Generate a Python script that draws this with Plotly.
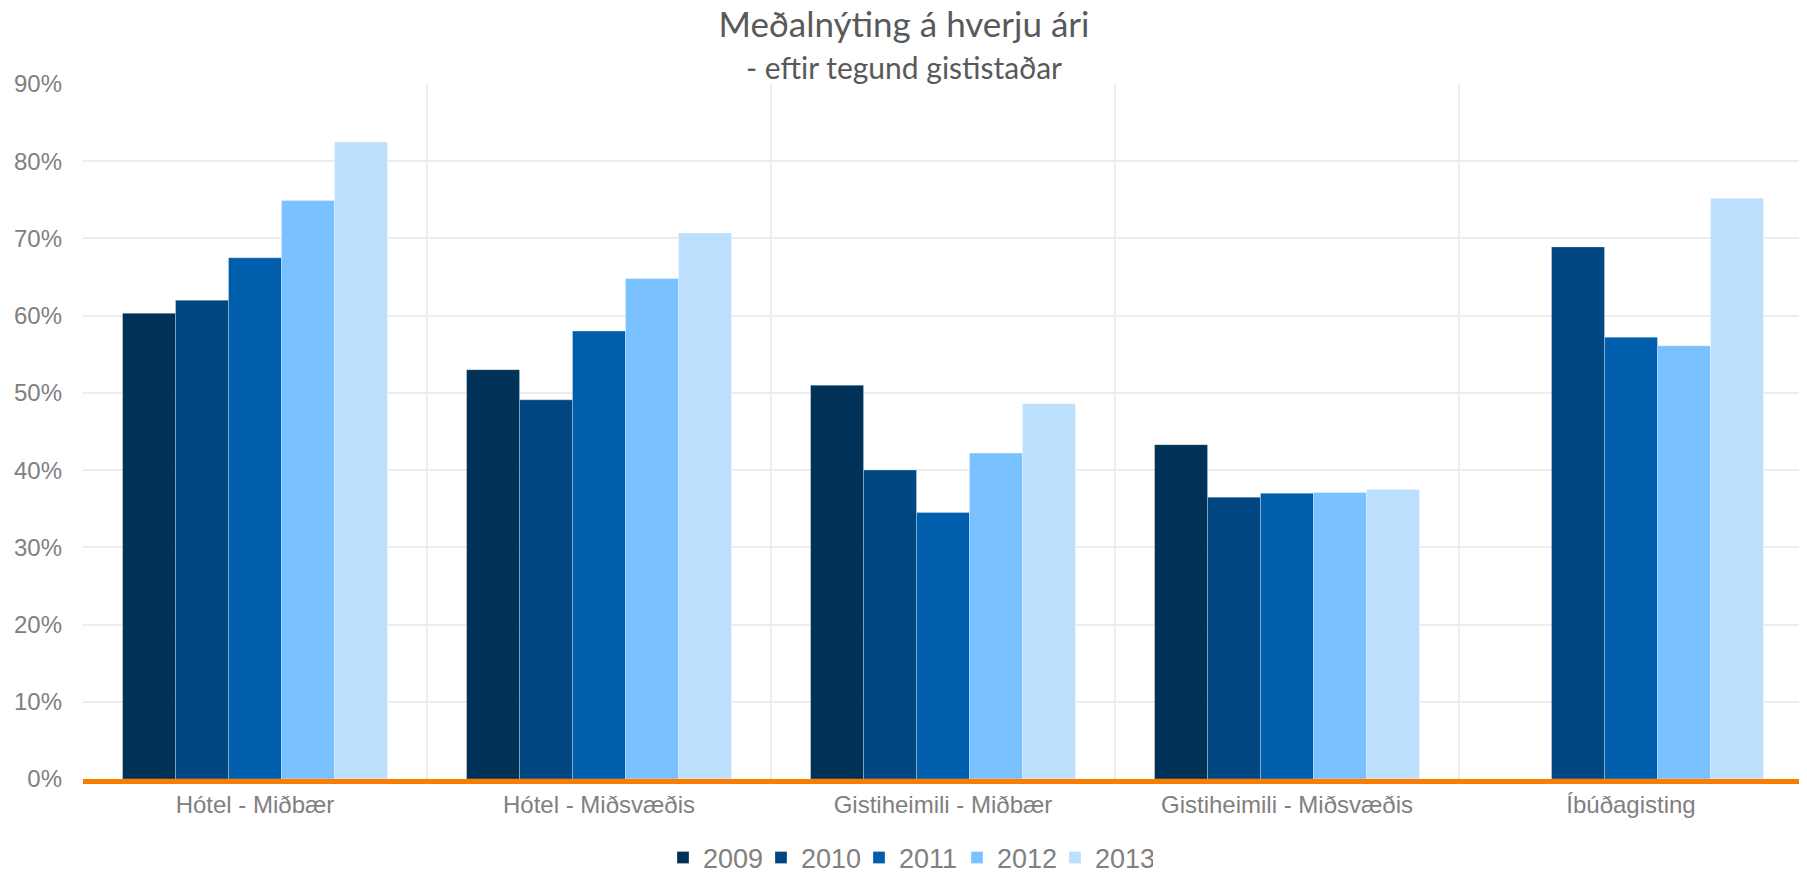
import plotly.graph_objects as go

categories = ["Hótel - Miðbær", "Hótel - Miðsvæðis", "Gistiheimili - Miðbær",
              "Gistiheimili - Miðsvæðis", "Íbúðagisting"]
years = ["2009", "2010", "2011", "2012", "2013"]

y2009 = [0.603, 0.530, 0.510, 0.433, None]
y2010 = [0.620, 0.491, 0.400, 0.365, 0.689]
y2011 = [0.675, 0.580, 0.345, 0.370, 0.572]
y2012 = [0.749, 0.648, 0.422, 0.371, 0.561]
y2013 = [0.825, 0.707, 0.486, 0.375, 0.752]

colors = ["#003258", "#004680", "#005EAD", "#7AC2FF", "#BDE0FE"]

series = [y2009, y2010, y2011, y2012, y2013]

# page body has an 8px margin, so the figure is a bit smaller and offset
W, H, OFF = 1799, 867, 8

fig = go.Figure()
for year, vals, col in zip(years, series, colors):
    fig.add_trace(go.Bar(
        x=categories, y=vals, name=year,
        marker=dict(color=col, line=dict(color="rgba(255,255,255,0.35)", width=0.8)),
    ))

grey = "#808080"
fig.update_layout(
    width=W, height=H,
    paper_bgcolor="white", plot_bgcolor="white",
    margin=dict(l=83 - OFF, r=4, t=84 - OFF, b=96),
    barmode="group", bargap=0.23, bargroupgap=0,
    font=dict(family="Liberation Sans, Arial, sans-serif", color=grey, size=24),
    title=dict(
        text="Meðalnýting á hverju ári",
        font=dict(family="Lato, Open Sans, sans-serif", size=35, color="#595959"),
        x=(904 - OFF) / W, xref="container", xanchor="center",
        y=1 - (25 - OFF) / H, yref="container", yanchor="middle",
    ),
    showlegend=True,
    legend=dict(
        orientation="h", xref="container", x=(908 - OFF) / W, xanchor="center",
        yref="container", y=1 - (858 - OFF) / H, yanchor="middle",
        font=dict(size=27, color=grey), traceorder="normal", itemwidth=30,
        entrywidth=53, entrywidthmode="pixels",
    ),
)

# subtitle
fig.add_annotation(
    text="- eftir tegund gististaðar", showarrow=False,
    xref="paper", yref="paper", x=(904 - 83) / 1720, y=(779 - 67) / 695,
    xanchor="center", yanchor="middle",
    font=dict(family="Lato, Open Sans, sans-serif", size=30, color="#595959"),
)

fig.update_xaxes(
    type="category", tickson="boundaries",
    showgrid=True, gridcolor="#EDEDED", gridwidth=1.5,
    showline=True, linecolor="#FA7D00", linewidth=5,
    ticks="", tickfont=dict(size=24, color=grey),
)
fig.update_yaxes(
    range=[0, 0.9], dtick=0.1, tickformat=".0%",
    showgrid=True, gridcolor="#EDEDED", gridwidth=1.5,
    zeroline=False, showline=False, ticks="",
    ticklabelstandoff=20, tickfont=dict(size=24, color=grey),
)

fig.write_html("out.html")
